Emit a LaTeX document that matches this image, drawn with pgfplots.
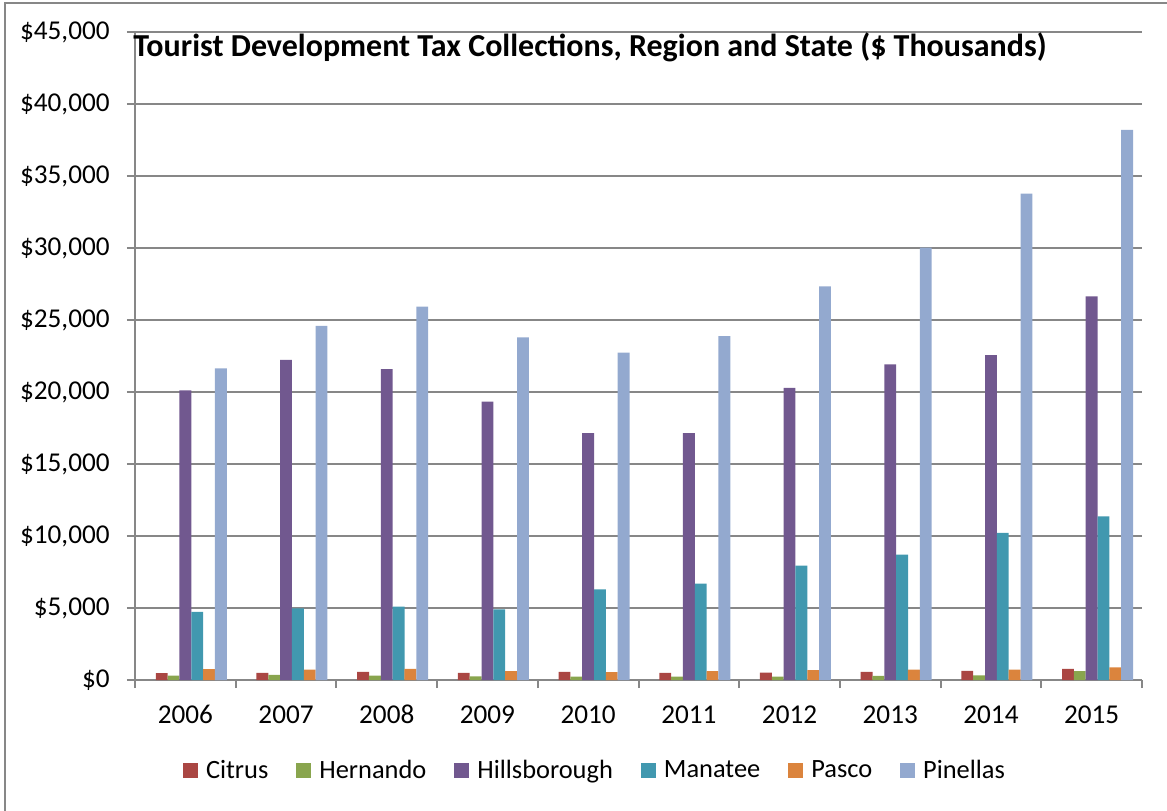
\documentclass[border=0pt]{standalone}
\usepackage{pgfplots}
\pgfplotsset{compat=1.18}
\usepackage{fontspec}
\setmainfont{Carlito}
\definecolor{cCit}{HTML}{AA4643}
\definecolor{cHer}{HTML}{89A54E}
\definecolor{cHil}{HTML}{71588F}
\definecolor{cMan}{HTML}{4198AF}
\definecolor{cPas}{HTML}{DB843D}
\definecolor{cPin}{HTML}{93A9CF}
\definecolor{axgray}{HTML}{878787}
\pgfplotstableread{
x Citrus Hernando Hill Manatee Pasco Pinellas
0 470 310 20120 4740 760 21640
1 500 350 22240 4980 720 24590
2 560 310 21590 5100 780 25930
3 500 250 19330 4900 620 23790
4 560 240 17140 6300 540 22740
5 490 240 17140 6700 620 23880
6 510 240 20280 7950 680 27330
7 560 280 21920 8700 720 30030
8 640 330 22560 10210 730 33770
9 780 620 26650 11360 880 38210
}\datatable
\begin{document}
\begin{tikzpicture}
\useasboundingbox (0,0) rectangle (583.5pt,-405pt);
\draw[axgray, line width=0.8pt] (2.5pt,-410pt) -- (2.5pt,-1.5pt) -- (590pt,-1.5pt);
\begin{axis}[
  at={(67.5pt,-340pt)}, anchor=south west,
  scale only axis, width=503.5pt, height=324pt,
  ybar=0pt, bar width=5.92pt,
  xmin=-0.5, xmax=9.5, ymin=0, ymax=45000,
  axis lines*=left,
  axis line style={axgray, line width=1pt},
  scaled y ticks=false,
  ytick={0,5000,...,45000},
  yticklabels={{\$0},{\$5,000},{\$10,000},{\$15,000},{\$20,000},{\$25,000},{\$30,000},{\$35,000},{\$40,000},{\$45,000}},
  ymajorgrids, major grid style={axgray, line width=1pt},
  tick align=outside, major tick length=4pt,
  tick style={axgray, line width=1pt},
  xtick={-0.5,0.5,...,9.5}, xticklabels={},
  extra x ticks={0,...,9},
  extra x tick labels={2006,2007,2008,2009,2010,2011,2012,2013,2014,2015},
  extra x tick style={major tick length=0pt, grid=none},
  tick label style={font=\fontsize{13.6}{16}\selectfont, text=black},
  yticklabel style={anchor=east, inner sep=0pt, xshift=-8.5pt},
  xticklabel style={anchor=base, inner sep=0pt, yshift=-21.5pt},
  legend columns=6,
  legend style={at={(0.4578,-0.1404)}, anchor=center, draw=none, fill=none,
    font=\fontsize{13.2}{16}\selectfont, inner sep=0pt,
    /tikz/every odd column/.append style={column sep=2pt},
    /tikz/every even column/.append style={column sep=12pt}},
  legend image code/.code={\fill[#1] (0pt,-3.75pt) rectangle (7.5pt,3.75pt);},
]
\addplot[fill=cCit, draw=none, bar shift=-11.83pt] table[x=x,y=Citrus] {\datatable};
\addlegendentry{Citrus}
\addplot[fill=cHer, draw=none, bar shift=-5.92pt] table[x=x,y=Hernando] {\datatable};
\addlegendentry{Hernando}
\addplot[fill=cHil, draw=none, bar shift=0pt] table[x=x,y=Hill] {\datatable};
\addlegendentry{Hillsborough}
\addplot[fill=cMan, draw=none, bar shift=5.92pt] table[x=x,y=Manatee] {\datatable};
\addlegendentry{Manatee}
\addplot[fill=cPas, draw=none, bar shift=11.83pt] table[x=x,y=Pasco] {\datatable};
\addlegendentry{Pasco}
\addplot[fill=cPin, draw=none, bar shift=17.75pt] table[x=x,y=Pinellas] {\datatable};
\addlegendentry{Pinellas}
\end{axis}
\node[anchor=base west, inner sep=0pt, font=\fontsize{16}{19}\selectfont\bfseries] at (66.5pt,-28pt) {Tourist Development Tax Collections, Region and State (\$ Thousands)};
\end{tikzpicture}
\end{document}
